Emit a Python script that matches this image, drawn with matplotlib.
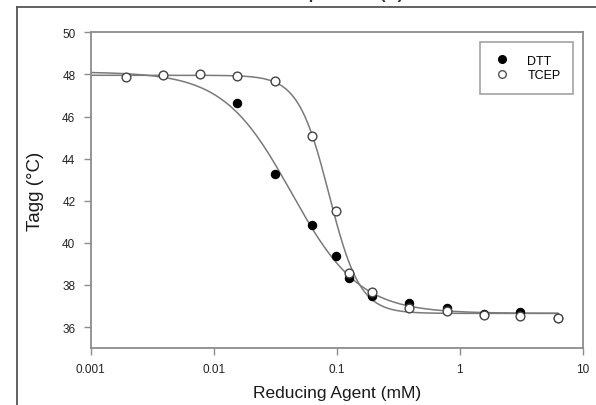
import numpy as np
import matplotlib
matplotlib.use("Agg")
import matplotlib.pyplot as plt
from matplotlib.lines import Line2D
from matplotlib.ticker import FixedLocator, FixedFormatter, NullLocator

# ---- data ----
dtt_x = [0.0156, 0.0313, 0.0625, 0.098, 0.125, 0.195, 0.39, 0.78, 1.56, 3.1, 6.25]
dtt_y = [46.63, 43.27, 40.85, 39.36, 38.33, 37.49, 37.14, 36.90, 36.60, 36.73, 36.45]
tcep_x = [0.00195, 0.0039, 0.0078, 0.0156, 0.0313, 0.0625, 0.098, 0.125, 0.195,
          0.39, 0.78, 1.56, 3.1, 6.25]
tcep_y = [47.86, 47.99, 48.02, 47.91, 47.69, 45.08, 41.50, 38.55, 37.68,
          36.90, 36.77, 36.57, 36.51, 36.43]
x_ticks = [0.001, 0.01, 0.1, 1, 10]
x_tick_labels = ["0.001", "0.01", "0.1", "1", "10"]
y_ticks = [36, 38, 40, 42, 44, 46, 48, 50]
series_names = ["DTT", "TCEP"]
dtt_top = 48.12  # plateau of the DTT fit read at the left edge


def model(p, lx):
    top, bot, lec, h = p
    return bot + (top - bot) / (1.0 + 10 ** (h * (lx - lec)))


def fit(xs, ys, p0, free=(True, True, True, True)):
    lx = np.log10(np.asarray(xs, float))
    y = np.asarray(ys, float)
    p = np.array(p0, float)
    idx = [k for k in range(4) if free[k]]
    lam = 1e-2
    for _ in range(400):
        r = y - model(p, lx)
        J = np.empty((len(lx), len(idx)))
        for j, k in enumerate(idx):
            dp = np.zeros(4)
            dp[k] = 1e-6
            J[:, j] = (model(p + dp, lx) - model(p - dp, lx)) / 2e-6
        A = J.T @ J
        g = J.T @ r
        step = np.linalg.solve(A + lam * np.diag(np.diag(A) + 1e-9), g)
        pn = p.copy()
        pn[idx] += step
        if np.sum((y - model(pn, lx)) ** 2) < np.sum(r ** 2):
            p = pn
            lam *= 0.5
        else:
            lam *= 4
    return p


p_dtt = fit(dtt_x, dtt_y, [dtt_top, 36.7, np.log10(0.045), 1.5],
            free=(False, True, True, True))
p_tcep = fit(tcep_x, tcep_y, [47.95, 36.5, np.log10(0.08), 4.0])

plt.rcParams['font.family'] = ['Liberation Sans', 'DejaVu Sans']

fig = plt.figure(figsize=(5.96, 4.06), dpi=100)
ax = fig.add_axes([0.152, 0.140, 0.826, 0.778])

lxs = np.linspace(-3, np.log10(6.25), 400)
line_c = '#7a7a7a'
ax.plot(10 ** lxs, model(p_dtt, lxs), color=line_c, lw=1.1, zorder=2)
ax.plot(10 ** lxs, model(p_tcep, lxs), color=line_c, lw=1.1, zorder=2)

ax.plot(dtt_x, dtt_y, 'o', ms=6, mfc='black', mec='black', mew=0.8, ls='none', zorder=3)
ax.plot(tcep_x, tcep_y, 'o', ms=6.3, mfc='white', mec='#444444', mew=1.0, ls='none', zorder=4)

ax.set_xscale('log')
ax.set_xlim(0.001, 10)
ax.set_ylim(35, 50)
ax.xaxis.set_major_locator(FixedLocator(x_ticks))
ax.xaxis.set_major_formatter(FixedFormatter(x_tick_labels))
ax.xaxis.set_minor_locator(NullLocator())
ax.set_yticks(y_ticks)

spine_c = '#8c8c8c'
for s in ax.spines.values():
    s.set_color(spine_c)
    s.set_linewidth(1.3)
ax.tick_params(axis='both', direction='out', length=5, width=1.0, color=spine_c,
               labelsize=8.5, labelcolor='#222222', pad=6)

ax.set_xlabel('Reducing Agent (mM)', fontsize=12.5, color='#1a1a1a', labelpad=7)
ax.set_ylabel('Tagg (°C)', fontsize=13.5, color='#1a1a1a', labelpad=13)

handles = [Line2D([], [], marker='o', ls='none', ms=5.5, mfc='black', mec='black'),
           Line2D([], [], marker='o', ls='none', ms=5.5, mfc='white', mec='#555555')]
leg = ax.legend(handles, series_names, loc='upper right', bbox_to_anchor=(0.985, 0.977),
                fontsize=9, frameon=True, fancybox=False, borderpad=1.0,
                handletextpad=1.2, labelspacing=0.2, handlelength=1.6, borderaxespad=0.2)
leg.get_frame().set_edgecolor('#8c8c8c')
leg.get_frame().set_linewidth(1.2)

# outer frame (left & top border) and title clipped by the top edge
fig.add_artist(Line2D([17 / 596, 17 / 596], [0, 1 - 7.5 / 406], transform=fig.transFigure,
                      color='#555555', lw=1.3))
fig.add_artist(Line2D([17 / 596, 1], [1 - 7.5 / 406, 1 - 7.5 / 406], transform=fig.transFigure,
                      color='#555555', lw=1.3))
fig.text(340 / 596, 1 + 0.5 / 406, 'Temperature (B)', ha='center', va='baseline',
         fontsize=12, fontweight='bold', color='#333333')

fig.savefig('out.png', dpi=100)
